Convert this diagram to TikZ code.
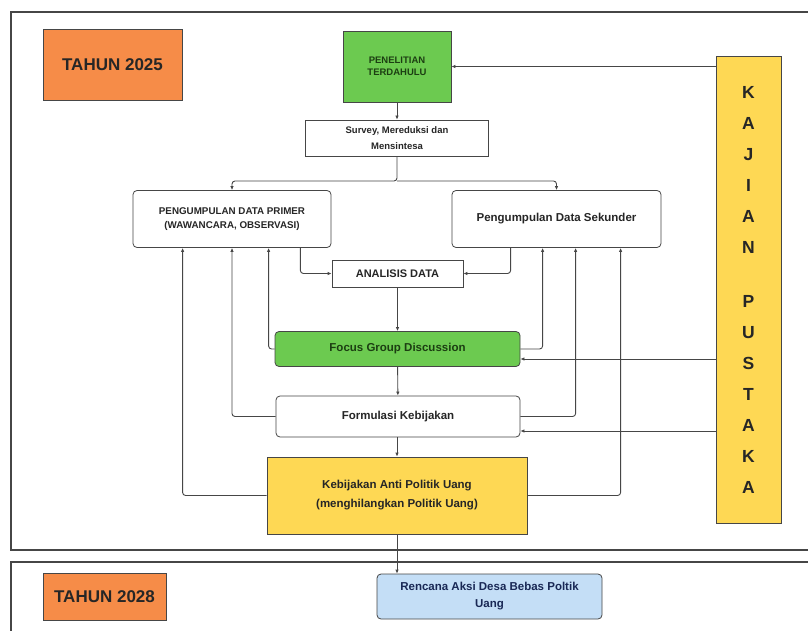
\documentclass[tikz,border=0pt]{standalone}
\usepackage{fontspec}
\setmainfont{Liberation Sans}
\usetikzlibrary{arrows.meta,calc,positioning}
\definecolor{YearOrange}{RGB}{246,140,72}
\definecolor{LeafGreen}{RGB}{108,202,80}
\definecolor{SunYellow}{RGB}{254,216,84}
\definecolor{SkyBlue}{RGB}{196,222,246}
\definecolor{LineGray}{RGB}{70,70,70}
\definecolor{DeepGreen}{RGB}{28,62,18}
\definecolor{DeepBlue}{RGB}{25,40,85}

\begin{document}
\begin{tikzpicture}[x=1pt,y=-1pt,>={Latex[length=4pt,width=3.5pt]},
  box/.style={draw=LineGray,line width=0.8pt,fill=white,align=center,inner sep=2pt,text=black!85},
  roundbox/.style={box,rounded corners=4pt},
  link/.style={LineGray,line width=0.9pt,->,rounded corners=3pt},
  frame/.style={LineGray,line width=1.6pt}]
  \useasboundingbox[fill=white] (0,0) rectangle (808,631);
  \draw[frame] (11,12) rectangle (830,550);
  \draw[frame] (11,562) rectangle (830,660);

  \node[box,fill=YearOrange,minimum width=139,minimum height=71,
    font=\bfseries\fontsize{17}{20}\selectfont] (tahunA) at (112.5,65) {TAHUN 2025};
  \node[box,fill=LeafGreen,text=DeepGreen,minimum width=108,minimum height=71,
    font=\bfseries\fontsize{9.5}{12}\selectfont] (penelitian) at (397,66.5) {PENELITIAN\\TERDAHULU};
  \node[box,minimum width=183,minimum height=36,
    font=\bfseries\fontsize{9.5}{16}\selectfont] (survey) at (397,138) {Survey, Mereduksi dan\\Mensintesa};
  \node[roundbox,minimum width=198,minimum height=57,
    font=\bfseries\fontsize{9.8}{14}\selectfont] (primer) at (232,219) {PENGUMPULAN DATA PRIMER\\(WAWANCARA, OBSERVASI)};
  \node[roundbox,minimum width=209,minimum height=57,
    font=\bfseries\fontsize{11.5}{14}\selectfont] (sekunder) at (556.5,219) {Pengumpulan Data Sekunder};
  \node[box,minimum width=131,minimum height=27,
    font=\bfseries\fontsize{11}{13}\selectfont] (analisis) at (397.5,273.5) {ANALISIS DATA};
  \node[roundbox,fill=LeafGreen,text=DeepGreen,minimum width=245,minimum height=35,
    font=\bfseries\fontsize{11.5}{14}\selectfont] (fgd) at (397.5,349) {Focus Group Discussion};
  \node[roundbox,minimum width=244,minimum height=41,
    font=\bfseries\fontsize{11.5}{14}\selectfont] (formulasi) at (398,416.5) {Formulasi Kebijakan};
  \node[box,fill=SunYellow,minimum width=260,minimum height=77,
    font=\bfseries\fontsize{11.5}{19}\selectfont] (kebijakan) at (397,495.5) {Kebijakan Anti Politik Uang\\(menghilangkan Politik Uang)};
  \node[box,fill=SunYellow,minimum width=65,minimum height=467,
    font=\bfseries\fontsize{17.5}{31}\selectfont] (kajian) at (748.5,289.5)
    {K\\A\\J\\I\\A\\N\\[23pt]P\\U\\S\\T\\A\\K\\A};
  \node[roundbox,fill=SkyBlue,text=DeepBlue,minimum width=225,minimum height=45,
    font=\bfseries\fontsize{11.5}{17}\selectfont] (rencana) at (489.5,596.5) {Rencana Aksi Desa Bebas Poltik\\Uang};
  \node[box,fill=YearOrange,minimum width=123,minimum height=47,
    font=\bfseries\fontsize{17}{20}\selectfont] (tahunB) at (104.5,596.5) {TAHUN 2028};

  \coordinate (split) at (397,181);
  \coordinate (fgdin) at ([yshift=-10pt]fgd.east);
  \coordinate (formin) at ([yshift=-14.5pt]formulasi.east);

  \draw[link] (kajian.west |- penelitian.east) -- (penelitian.east);
  \draw[link] (penelitian) -- (survey);
  \draw[link] (survey.south) -- (split) -| (primer.north);
  \draw[link] (split) -| (sekunder.north);
  \draw[link] ([xshift=-31pt]primer.south east) |- (analisis.west);
  \draw[link] ([xshift=59pt]sekunder.south west) |- (analisis.east);
  \draw[link] (analisis) -- (fgd);
  \draw[link] (fgd) -- (formulasi);
  \draw[link] (formulasi.south -| kebijakan.north) -- (kebijakan.north);
  \draw[link] (kebijakan.south) -- (kebijakan.south |- rencana.north);

  \draw[link] (fgd.west) -| ([xshift=136pt]primer.south west);
  \draw[link] (formulasi.west) -| (primer.south);
  \draw[link] (kebijakan.west) -| ([xshift=50pt]primer.south west);
  \draw[link] (fgd.east) -| ([xshift=91pt]sekunder.south west);
  \draw[link] (formulasi.east) -| ([xshift=124pt]sekunder.south west);
  \draw[link] (kebijakan.east) -| ([xshift=169pt]sekunder.south west);
  \draw[link] (kajian.west |- fgdin) -- (fgdin);
  \draw[link] (kajian.west |- formin) -- (formin);
\end{tikzpicture}
\end{document}
